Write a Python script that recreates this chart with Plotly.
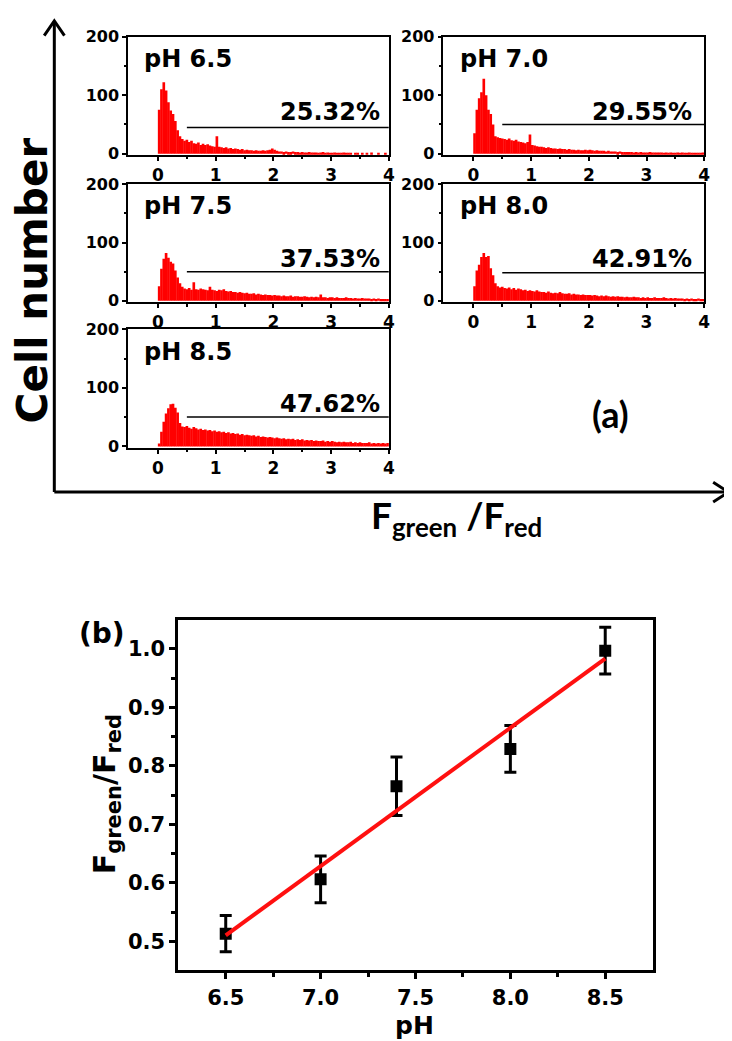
import numpy as np
import plotly.graph_objects as go

W, H = 732, 1041

# ---------------- data: panel (a) histograms (bin width 0.04, 0..4) ----------------
bin_width = 0.04
bin_start = 0.0
n_bins = 100

hist_ph65 = [75, 110, 122, 108, 88, 74, 68, 56, 40, 30,
             25, 22, 24, 20, 22, 18, 17, 19, 15, 17,
             15, 16, 14, 13, 12, 30, 12, 11, 10, 11,
             9, 10, 8, 9, 8, 7, 8, 6, 7, 6,
             6, 5, 6, 5, 5, 6, 5, 6, 7, 9,
             7, 5, 4, 4, 3, 4, 3, 3, 4, 3,
             3, 2, 3, 2, 2, 3, 2, 2, 2, 1,
             2, 3, 1, 2, 1, 1, 2, 1, 1, 1,
             2, 1, 1, 1, 0, 1, 1, 0, 1, 0,
             1, 0, 2, 0, 0, 1, 0, 0, 1, 0]
hist_ph70 = [35, 75, 95, 105, 128, 100, 75, 68, 50, 30,
             28, 27, 26, 25, 24, 26, 23, 22, 24, 21,
             20, 19, 18, 20, 33, 15, 14, 13, 12, 12,
             11, 10, 11, 10, 9, 9, 8, 9, 8, 8,
             7, 8, 7, 7, 6, 7, 6, 6, 7, 6,
             7, 6, 5, 6, 5, 5, 5, 4, 5, 4,
             4, 4, 3, 4, 3, 3, 3, 3, 3, 2,
             3, 2, 3, 2, 2, 2, 3, 2, 2, 2,
             2, 2, 1, 2, 1, 2, 1, 1, 2, 1,
             2, 1, 1, 2, 1, 1, 1, 1, 1, 2]
hist_ph75 = [25, 55, 72, 82, 74, 67, 64, 52, 40, 30,
             24, 21, 20, 22, 19, 32, 20, 19, 21, 20,
             19, 18, 24, 19, 18, 17, 19, 18, 20, 17,
             16, 17, 15, 15, 14, 15, 14, 13, 14, 12,
             12, 13, 11, 12, 11, 10, 11, 10, 10, 9,
             10, 9, 9, 8, 9, 8, 8, 9, 7, 8,
             8, 7, 7, 8, 7, 6, 7, 6, 7, 6,
             11, 6, 6, 5, 6, 6, 5, 6, 5, 5,
             5, 6, 5, 5, 4, 5, 4, 4, 5, 4,
             4, 4, 3, 4, 3, 4, 3, 3, 3, 3]
hist_ph80 = [25, 52, 62, 75, 82, 75, 77, 56, 44, 30,
             25, 23, 24, 22, 21, 23, 20, 22, 19, 21,
             20, 18, 19, 17, 18, 17, 16, 18, 16, 15,
             15, 14, 16, 14, 13, 14, 13, 15, 13, 12,
             12, 13, 11, 12, 11, 11, 10, 11, 10, 10,
             10, 9, 10, 9, 8, 9, 8, 9, 8, 7,
             8, 7, 8, 7, 7, 6, 7, 6, 6, 7,
             6, 6, 5, 6, 5, 6, 5, 5, 6, 5,
             5, 5, 6, 5, 4, 5, 4, 5, 4, 4,
             4, 3, 4, 3, 4, 3, 3, 4, 3, 3]
hist_ph85 = [5, 25, 42, 56, 65, 72, 73, 66, 58, 40,
             34, 33, 35, 32, 30, 33, 31, 29, 30, 28,
             29, 27, 28, 26, 27, 25, 26, 24, 25, 23,
             24, 22, 23, 21, 22, 20, 21, 19, 20, 19,
             18, 19, 17, 18, 16, 17, 16, 15, 16, 15,
             14, 15, 14, 13, 14, 12, 13, 12, 13, 11,
             12, 11, 12, 10, 11, 10, 11, 9, 10, 9,
             9, 10, 8, 9, 8, 9, 8, 7, 8, 7,
             8, 7, 7, 8, 6, 7, 6, 7, 6, 6,
             6, 7, 5, 6, 5, 6, 5, 6, 5, 6]

hists = [hist_ph65, hist_ph70, hist_ph75, hist_ph80, hist_ph85]
panel_labels = ["pH 6.5", "pH 7.0", "pH 7.5", "pH 8.0", "pH 8.5"]
percent_labels = ["25.32%", "29.55%", "37.53%", "42.91%", "47.62%"]
gate_start = 0.5
gate_end = 4.0
gate_level = [45, 50, 50, 48, 50]

hist_x_ticks = [0, 1, 2, 3, 4]
hist_y_ticks = [0, 100, 200]

# ---------------- data: panel (b) ----------------
ph_values = [6.5, 7.0, 7.4, 8.0, 8.5]
ratio_values = [0.513, 0.606, 0.765, 0.829, 0.997]
ratio_err = [0.031, 0.040, 0.050, 0.040, 0.040]
b_x_ticks = [6.5, 7.0, 7.5, 8.0, 8.5]
b_y_ticks = [0.5, 0.6, 0.7, 0.8, 0.9, 1.0]

# ---------------- helpers ----------------
def fx(px):
    return px / W

def fy(py):
    return 1 - py / H

def bfont(size, family="DejaVu Sans"):
    return dict(family=family, size=size, color="black", weight="bold")

centers = bin_start + bin_width * (np.arange(n_bins) + 0.5)

cols = [(121, 384), (439, 702)]
rows = [(20, 140.5), (170, 290), (317.5, 438)]
positions = [(0, 0), (1, 0), (0, 1), (1, 1), (0, 2)]

fig = go.Figure()
layout = {}
annotations = []
shapes = []

for i, (c, r) in enumerate(positions):
    n = i + 1
    xa = "x" if n == 1 else f"x{n}"
    ya = "y" if n == 1 else f"y{n}"
    xkey = "xaxis" if n == 1 else f"xaxis{n}"
    ykey = "yaxis" if n == 1 else f"yaxis{n}"
    fig.add_trace(go.Bar(x=centers, y=hists[i], width=bin_width * 1.15,
                         marker=dict(color="#ff0000", line=dict(width=0)),
                         xaxis=xa, yaxis=ya, showlegend=False, hoverinfo="skip"))
    x0, x1 = cols[c]
    y0, y1 = rows[r]
    layout[xkey] = dict(domain=[fx(x0), fx(x1)], anchor=ya, range=[-0.52, 4.0],
                        tickmode="array", tickvals=hist_x_ticks,
                        ticks="outside", ticklen=4, tickwidth=1.5, tickcolor="black",
                        minor=dict(tickmode="array", tickvals=[0.5, 1.5, 2.5, 3.5], ticks="outside",
                                   ticklen=2.5, tickwidth=1.5, tickcolor="black"),
                        showline=True, linewidth=1.5, linecolor="black", mirror=True,
                        showgrid=False, zeroline=False, tickfont=bfont(17), fixedrange=True)
    layout[ykey] = dict(domain=[fy(y1), fy(y0)], anchor=xa, range=[-2.5, 200],
                        tickmode="array", tickvals=hist_y_ticks,
                        ticks="outside", ticklen=4, tickwidth=1.5, tickcolor="black",
                        minor=dict(tickmode="array", tickvals=[50, 150], ticks="outside",
                                   ticklen=2.5, tickwidth=1.5, tickcolor="black"),
                        showline=True, linewidth=1.5, linecolor="black", mirror=True,
                        showgrid=False, zeroline=False, tickfont=bfont(16), fixedrange=True)
    shapes.append(dict(type="line", xref=xa, yref=ya, x0=gate_start, x1=gate_end,
                       y0=gate_level[i], y1=gate_level[i], line=dict(color="black", width=1.5)))
    annotations.append(dict(xref=xa, yref=ya, x=-0.27, y=162, text=panel_labels[i],
                            showarrow=False, xanchor="left", yanchor="middle", font=bfont(24)))
    annotations.append(dict(xref=xa, yref=ya, x=3.88 if c == 0 else 3.82, y=72,
                            text=percent_labels[i], showarrow=False,
                            xanchor="right", yanchor="middle", font=bfont(24)))

# big arrow axes of panel (a)
ax_x, ax_y = 46.7, 483
shapes.append(dict(type="line", xref="paper", yref="paper", x0=fx(ax_x), x1=fx(ax_x),
                   y0=fy(ax_y), y1=fy(4), line=dict(color="black", width=3)))
shapes.append(dict(type="line", xref="paper", yref="paper", x0=fx(ax_x), x1=fx(726),
                   y0=fy(ax_y), y1=fy(ax_y), line=dict(color="black", width=3)))

def pth(pts):
    return "M " + " L ".join(f"{fx(a):.5f},{fy(b):.5f}" for a, b in pts)

shapes.append(dict(type="path", xref="paper", yref="paper",
                   path=pth([(36.5, 19), (ax_x, 4), (56.9, 19)]), line=dict(color="black", width=3)))
shapes.append(dict(type="path", xref="paper", yref="paper",
                   path=pth([(711, 473), (726.5, ax_y), (711, 493)]), line=dict(color="black", width=3)))

annotations.append(dict(xref="paper", yref="paper", x=fx(25), y=fy(268), text="Cell number",
                        textangle=-90, showarrow=False, xanchor="center", yanchor="middle",
                        font=bfont(42)))
annotations.append(dict(xref="paper", yref="paper", x=fx(452), y=fy(509),
                        text="F<sub>green</sub> /F<sub>red</sub>",
                        showarrow=False, xanchor="center", yanchor="middle",
                        font=bfont(37, "Lato")))
annotations.append(dict(xref="paper", yref="paper", x=fx(607), y=fy(404), text="(a)",
                        showarrow=False, xanchor="center", yanchor="middle",
                        font=bfont(36, "Lato")))

# ---------------- panel (b) ----------------
fig.add_trace(go.Scatter(x=ph_values, y=ratio_values, mode="markers",
                         marker=dict(symbol="square", size=12, color="black"),
                         error_y=dict(type="data", array=ratio_err, visible=True,
                                      color="black", thickness=3, width=6),
                         xaxis="x6", yaxis="y6", showlegend=False))
slope, intercept = np.polyfit(ph_values, ratio_values, 1)
fit_x = [min(ph_values), max(ph_values)]
fit_y = [slope * v + intercept for v in fit_x]
fig.add_trace(go.Scatter(x=fit_x, y=fit_y, mode="lines",
                         line=dict(color="#ff1010", width=4),
                         xaxis="x6", yaxis="y6", showlegend=False))

layout["xaxis6"] = dict(domain=[fx(171.7), fx(650)], anchor="y6", range=[6.25, 8.75],
                        tickmode="array", tickvals=b_x_ticks, ticktext=[f"{v:.1f}" for v in b_x_ticks],
                        ticks="outside", ticklen=6, tickwidth=2.5, tickcolor="black",
                        minor=dict(tickmode="array", tickvals=[6.75, 7.25, 7.75, 8.25], ticks="outside",
                                   ticklen=4, tickwidth=2.5, tickcolor="black"),
                        showline=True, linewidth=3, linecolor="black", mirror=True,
                        showgrid=False, zeroline=False, tickfont=bfont(21), fixedrange=True)
layout["yaxis6"] = dict(domain=[fy(969.3), fy(612.7)], anchor="x6", range=[0.45, 1.05],
                        tickmode="array", tickvals=b_y_ticks, ticktext=[f"{v:.1f}" for v in b_y_ticks],
                        ticks="outside", ticklen=6, tickwidth=2.5, tickcolor="black",
                        minor=dict(tickmode="array", tickvals=[0.55, 0.65, 0.75, 0.85, 0.95], ticks="outside",
                                   ticklen=4, tickwidth=2.5, tickcolor="black"),
                        showline=True, linewidth=3, linecolor="black", mirror=True,
                        showgrid=False, zeroline=False, tickfont=bfont(21), fixedrange=True)

annotations.append(dict(xref="paper", yref="paper", x=fx(99), y=fy(790),
                        text="F<sub>green</sub>/F<sub>red</sub>", textangle=-90,
                        showarrow=False, xanchor="center", yanchor="middle", font=bfont(30)))
annotations.append(dict(xref="paper", yref="paper", x=fx(410), y=fy(1025), text="pH",
                        showarrow=False, xanchor="center", yanchor="middle", font=bfont(25)))
annotations.append(dict(xref="paper", yref="paper", x=fx(95), y=fy(627), text="(b)",
                        showarrow=False, xanchor="center", yanchor="middle", font=bfont(28)))

fig.update_layout(width=W, height=H, margin=dict(l=0, r=0, t=0, b=0),
                  paper_bgcolor="white", plot_bgcolor="white", barmode="overlay",
                  annotations=annotations, shapes=shapes, **layout)

fig.write_html("out.html", config={"displayModeBar": False})
